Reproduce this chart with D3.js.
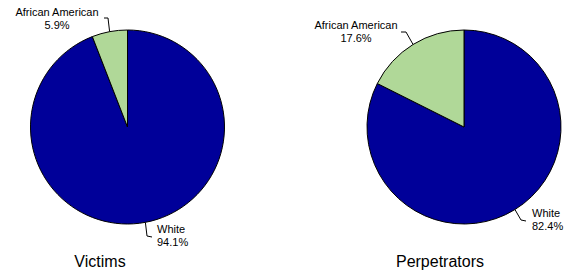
<!DOCTYPE html>
<html>
<head>
<meta charset="utf-8">
<script src="https://cdn.jsdelivr.net/npm/d3@7"></script>
<style>
  body { margin: 0; background: #fff; }
  text { font-family: "Liberation Sans", Arial, sans-serif; fill: #000; }
</style>
</head>
<body>
<svg id="canvas" width="568" height="273"></svg>
<script>
let charts = ['Victims', 'Perpetrators']
let categories = ['White', 'African American']
let victimsValues = [94.1, 5.9]
let perpetratorValues = [82.4, 17.6]

let colors = d3.scaleOrdinal()
    .domain(categories)
    .range(['#000099', '#b0d898'])

let canvas = d3.select('#canvas')

// one pie per group, placement & label nudges
let layout = [
    { cx: 127.5, cy: 127, values: victimsValues, title: charts[0], titleX: 100,
      aa: { tx: 57, ty: 16, elbow: [[104, 18], [108, 18]] },
      wh: { tx: 157, ty: 233, elbow: [[147, 236], [152, 237]] } },
    { cx: 464, cy: 127, values: perpetratorValues, title: charts[1], titleX: 440,
      aa: { tx: 356, ty: 29, elbow: [[401, 32], [406, 32]] },
      wh: { tx: 532, ty: 217, elbow: [[521, 220], [526, 221]] } }
]

let radius = 97

let pie = d3.pie().sort(null).value(d => d.value)
let arc = d3.arc().innerRadius(0).outerRadius(radius)

layout.forEach(item => {
    let data = categories.map((c, i) => ({ name: c, value: item.values[i] }))
    let g = canvas.append('g').attr('transform', 'translate(' + item.cx + ',' + item.cy + ')')

    let arcs = pie(data)
    g.selectAll('path')
        .data(arcs)
        .enter()
        .append('path')
        .attr('d', arc)
        .attr('fill', d => colors(d.data.name))
        .attr('stroke', '#000')
        .attr('stroke-width', 1)

    arcs.forEach(a => {
        let mid = (a.startAngle + a.endAngle) / 2
        let px = item.cx + radius * Math.sin(mid)
        let py = item.cy - radius * Math.cos(mid)
        let lab = a.data.name === 'White' ? item.wh : item.aa
        let pts
        if (a.data.name === 'White') {
            pts = [[px, py], lab.elbow[0], lab.elbow[1]]
        } else {
            pts = [lab.elbow[0], lab.elbow[1], [px, py]]
        }
        canvas.append('path')
            .attr('d', d3.line()(pts))
            .attr('fill', 'none')
            .attr('stroke', '#000')
            .attr('stroke-width', 1)

        let anchor = a.data.name === 'White' ? 'start' : 'middle'
        let t = canvas.append('text')
            .attr('x', lab.tx)
            .attr('y', lab.ty)
            .attr('text-anchor', anchor)
            .style('font-size', '11px')
        t.append('tspan').attr('x', lab.tx).text(a.data.name)
        t.append('tspan').attr('x', lab.tx).attr('dy', 13).text(a.data.value.toFixed(1) + '%')
    })

    canvas.append('text')
        .attr('x', item.titleX)
        .attr('y', 267)
        .attr('text-anchor', 'middle')
        .style('font-size', '16px')
        .text(item.title)
})
</script>
</body>
</html>
